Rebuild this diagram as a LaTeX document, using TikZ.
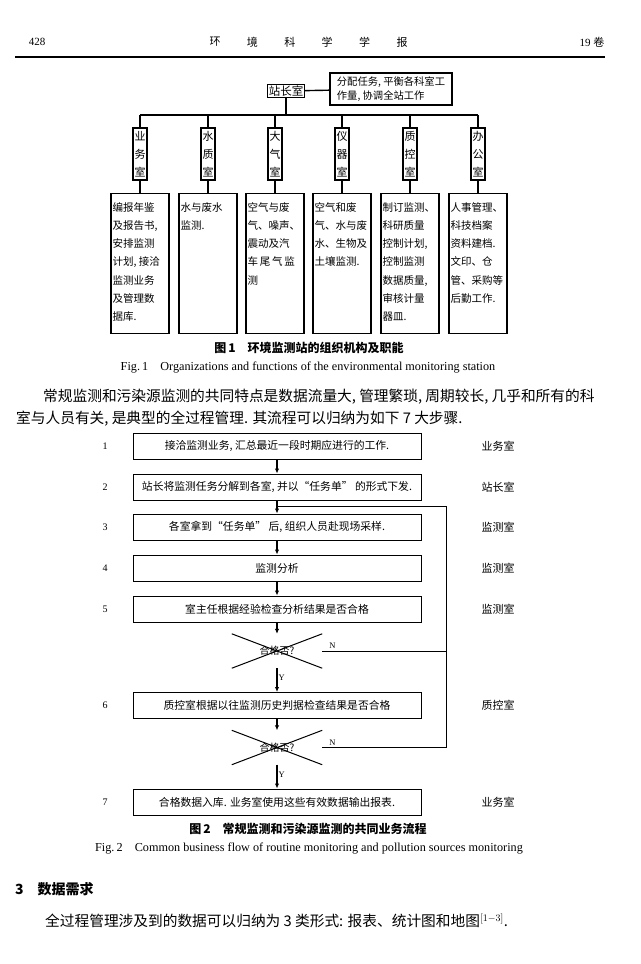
\documentclass[tikz,border=0pt]{standalone}
\usepackage{fontspec}
\setmainfont{Liberation Serif}
\newfontfamily\cjk{Noto Sans CJK SC}
\usetikzlibrary{arrows.meta,calc,positioning}
\tikzset{
  orgline/.style={line width=1.4pt},
  chiefbox/.style={draw, line width=1.2pt, inner sep=1pt,
    font=\cjk\fontsize{11.5}{13}\selectfont},
  notebox/.style={draw, line width=1.2pt, minimum width=122pt, minimum height=32pt,
    align=left, inner sep=2pt, font=\cjk\fontsize{10.3}{14}\selectfont},
  deptbox/.style={draw, line width=1.2pt, minimum width=14pt, minimum height=52pt,
    inner sep=0.5pt, align=center, font=\cjk\fontsize{11}{18}\selectfont},
  dutybox/.style={draw, line width=1.2pt, minimum width=58pt, minimum height=140pt,
    anchor=north},
  dutytext/.style={anchor=north west, inner sep=0pt, align=left,
    font=\cjk\fontsize{10.5}{18.3}\selectfont},
  stepbox/.style={draw, line width=1pt, minimum width=288pt, minimum height=26pt,
    inner sep=0pt, font=\cjk\fontsize{10.8}{13}\selectfont},
  checknode/.style={minimum width=90pt, minimum height=34pt, inner sep=0pt,
    font=\cjk\fontsize{10}{12}\selectfont},
  stepno/.style={font=\fontsize{10}{12}\selectfont},
  roomlabel/.style={font=\cjk\fontsize{11}{13}\selectfont},
  flowarrow/.style={line width=1.2pt, -{Latex[length=5pt,width=4.5pt]}},
  loopline/.style={line width=1pt},
  yn/.style={font=\fontsize{8.5}{10}\selectfont, inner sep=1pt},
  capcn/.style={font=\cjk\bfseries\fontsize{12}{14}\selectfont},
  capen/.style={font=\fontsize{12.2}{14}\selectfont},
  bodytext/.style={anchor=west, inner sep=0pt, font=\cjk\fontsize{14.7}{17}\selectfont}
}
\begin{document}
\begin{tikzpicture}[x=1pt,y=-1pt]
  \useasboundingbox[fill=white] (0,0) rectangle (640,964);

  % running head
  \node[font=\fontsize{11}{13}\selectfont] (pageno) at (37,42) {428};
  \foreach \c [count=\k] in {环,境,科,学,学,报}
    \node[font=\cjk\fontsize{11}{13}\selectfont] (head\k) at ({215+37.4*(\k-1)},42) {\c};
  \node[font=\fontsize{11}{13}\selectfont] (volume) at (592,42) {19 {\cjk 卷}};
  \draw[line width=1.2pt] (15,57) -- (605,57);

  % Fig. 1: organisation chart
  \node[chiefbox] (chief) at (286,91) {站长室};
  \node[notebox] (chiefnote) at (391,89) {分配任务, 平衡各科室工\\作量, 协调全站工作};
  \draw[orgline] (chief) -- (chiefnote);
  \coordinate (busL) at (140,115);
  \coordinate (busR) at (478,115);
  \draw[orgline] (busL) -- (busR);
  \draw[orgline] (chief.south) -- (chief.south |- busL);
  \foreach \n/\x/\t in {ye/140/业\\务\\室, shui/208/水\\质\\室, qi/275/大\\气\\室,
      yi/342/仪\\器\\室, zk/410/质\\控\\室, bg/478/办\\公\\室} {
    \node[deptbox] (\n) at (\x,154) {\t};
    \node[dutybox] (\n duty) at (\x,193) {};
    \draw[orgline] (\n.north |- busL) -- (\n.north);
    \draw[orgline] (\n.south) -- (\n duty.north);
  }
  \node[dutytext] (yetext) at ($(yeduty.north west)+(2,9)$)
    {编报年鉴\\及报告书,\\安排监测\\计划, 接洽\\监测业务\\及管理数\\据库.};
  \node[dutytext] (shuitext) at ($(shuiduty.north west)+(2,9)$)
    {水与废水\\监测.};
  \node[dutytext] (qitext) at ($(qiduty.north west)+(2,9)$)
    {空气与废\\气、噪声、\\震动及汽\\车\,尾\,气\,监\\测};
  \node[dutytext] (yitext) at ($(yiduty.north west)+(2,9)$)
    {空气和废\\气、水与废\\水、生物及\\土壤监测.};
  \node[dutytext] (zktext) at ($(zkduty.north west)+(2,9)$)
    {制订监测、\\科研质量\\控制计划,\\控制监测\\数据质量,\\审核计量\\器皿.};
  \node[dutytext] (bgtext) at ($(bgduty.north west)+(2,9)$)
    {人事管理、\\科技档案\\资料建档.\\文印、仓\\管、采购等\\后勤工作.};
  \node[capcn] (cap1) at (309,348) {图\,1\quad 环境监测站的组织机构及职能};
  \node[capen] (cap1en) at (308,368)
    {Fig.\,1\quad Organizations and functions of the environmental monitoring station};

  % paragraph
  \node[bodytext] (para1) at (43,397)
    {常规监测和污染源监测的共同特点是数据流量大, 管理繁琐, 周期较长, 几乎和所有的科};
  \node[bodytext] (para2) at (16,419)
    {室与人员有关, 是典型的全过程管理. 其流程可以归纳为如下 7 大步骤.};

  % Fig. 2: business flow
  \node[stepbox] (s1) at (277,446) {接洽监测业务, 汇总最近一段时期应进行的工作.};
  \node[stepbox] (s2) at (277,487) {站长将监测任务分解到各室, 并以“任务单” 的形式下发.};
  \node[stepbox] (s3) at (277,527) {各室拿到“任务单” 后, 组织人员赴现场采样.};
  \node[stepbox] (s4) at (277,568) {监测分析};
  \node[stepbox] (s5) at (277,609) {室主任根据经验检查分析结果是否合格};
  \node[checknode] (q1) at (277,651) {合格否?};
  \node[stepbox] (s6) at (277,705.5) {质控室根据以往监测历史判据检查结果是否合格};
  \node[checknode] (q2) at (277,747.5) {合格否?};
  \node[stepbox] (s7) at (277,802) {合格数据入库. 业务室使用这些有效数据输出报表.};
  \foreach \s in {1,...,7}
    \node[stepno] (no\s) at (105,0 |- s\s) {\s};
  \node[roomlabel] (r1) at (498,446) {业务室};
  \node[roomlabel] (r2) at (498,487) {站长室};
  \node[roomlabel] (r3) at (498,527) {监测室};
  \node[roomlabel] (r4) at (498,568) {监测室};
  \node[roomlabel] (r5) at (498,609) {监测室};
  \node[roomlabel] (r6) at (498,705.5) {质控室};
  \node[roomlabel] (r7) at (498,802) {业务室};

  \draw[loopline] (q1.north west) -- (q1.south east) (q1.south west) -- (q1.north east);
  \draw[loopline] (q2.north west) -- (q2.south east) (q2.south west) -- (q2.north east);
  \draw[flowarrow] (s1) -- (s2);
  \draw[flowarrow] (s2) -- (s3);
  \draw[flowarrow] (s3) -- (s4);
  \draw[flowarrow] (s4) -- (s5);
  \draw[flowarrow] (s5) -- (q1);
  \draw[flowarrow] (q1) -- node[yn, right, pos=0.4] (y1) {Y} (s6);
  \draw[flowarrow] (s6) -- (q2);
  \draw[flowarrow] (q2) -- node[yn, right, pos=0.4] (y2) {Y} (s7);

  % back loop for N
  \coordinate (join) at ($(s3.north)+(0,-7)$);
  \coordinate (loopx) at (446,0);
  \draw[loopline] (q1.east) -- (q1.east -| loopx);
  \draw[loopline] (q2.east) -- (q2.east -| loopx) |- (join);
  \node[yn, anchor=south west] (n1) at ($(q1.east)+(6,-1)$) {N};
  \node[yn, anchor=south west] (n2) at ($(q2.east)+(6,-1)$) {N};
  \node[capcn] (cap2) at (308,829) {图\,2\quad 常规监测和污染源监测的共同业务流程};
  \node[capen] (cap2en) at (309,849)
    {Fig.\,2\quad Common business flow of routine monitoring and pollution sources monitoring};

  % section 3
  \node[anchor=west, inner sep=0pt, font=\cjk\bfseries\fontsize{14}{16}\selectfont]
    (sec3) at (15,889) {3\quad 数据需求};
  \node[bodytext] (para3) at (45,921)
    {全过程管理涉及到的数据可以归纳为 3 类形式: 报表、统计图和地图$^{[1-3]}$.};
\end{tikzpicture}
\end{document}
